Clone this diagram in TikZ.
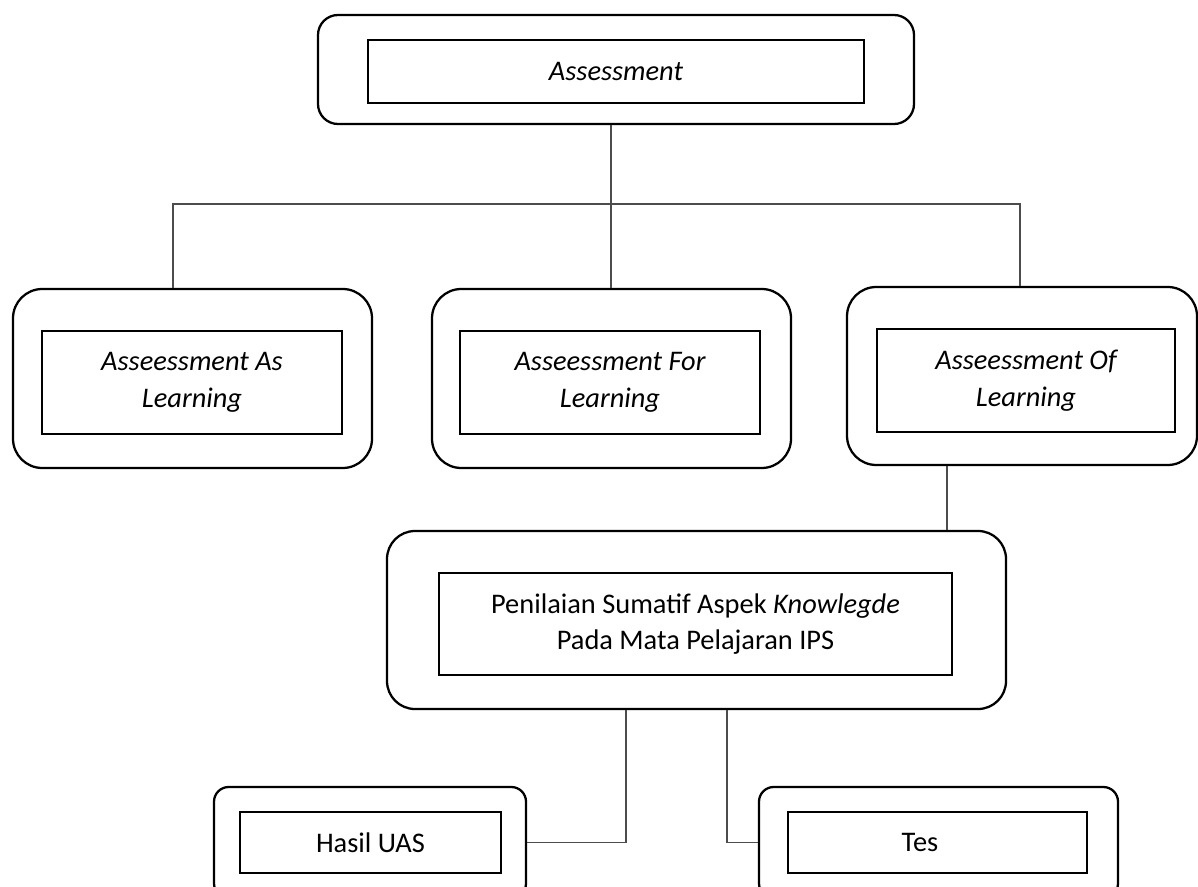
\documentclass[tikz,border=0pt]{standalone}
\usepackage{fontspec}
\setmainfont{Carlito}
\begin{document}
\begin{tikzpicture}[x=0.75pt,y=-0.75pt,
  outerbox/.style={draw=black, line width=1.7pt, rounded corners=#1, inner sep=0pt},
  innerbox/.style={draw=black, line width=1.5pt, inner sep=0pt, align=center,
    font=\fontsize{21.3}{27.5}\selectfont},
  lbl/.style={inner sep=0pt, align=center, font=\fontsize{21.3}{27.5}\selectfont},
  conn/.style={draw=black!70, line width=0.8pt}]
\useasboundingbox (0,0) rectangle (1198,887);
\clip (0,0) rectangle (1198,887);
% top
\node[outerbox=15pt, minimum width=447pt, minimum height=81.75pt] (topO) at (616,69.5) {};
\node[innerbox, minimum width=372pt, minimum height=47.25pt] (topI) at (616,71.5) {\itshape Assessment};
% level 2
\node[outerbox=22pt, minimum width=269.25pt, minimum height=134.25pt] (b1O) at (192.5,378.5) {};
\node[innerbox, minimum width=225pt, minimum height=77.25pt] (b1I) at (192,382.5) {\itshape Asseessment As\\\itshape Learning};
\node[outerbox=22pt, minimum width=269.25pt, minimum height=134.25pt] (b2O) at (611.5,378.5) {};
\node[innerbox, minimum width=225pt, minimum height=77.25pt] (b2I) at (610,382.5) {\itshape Asseessment For\\\itshape Learning};
\node[outerbox=22pt, minimum width=262.5pt, minimum height=133.5pt] (b3O) at (1022,376) {};
\node[innerbox, minimum width=223.5pt, minimum height=77.25pt] (b3I) at (1026,380.5) {\itshape Asseessment Of\\\itshape Learning};
% level 3
\node[outerbox=21pt, minimum width=464.25pt, minimum height=133.5pt] (b4O) at (696.5,620) {};
\node[innerbox, minimum width=384.75pt, minimum height=76.5pt] (b4I) at (695.5,624) {Penilaian Sumatif Aspek \textit{Knowlegde}\\Pada Mata Pelajaran IPS};
% level 4
\node[outerbox=11pt, minimum width=234pt, minimum height=83.25pt] (b5O) at (370,842.5) {};
\node[innerbox, minimum width=195.75pt, minimum height=45.75pt] (b5I) at (370.5,842.5) {Hasil UAS};
\node[outerbox=11pt, minimum width=269.25pt, minimum height=83.25pt] (b6O) at (938.5,842.5) {};
\node[innerbox, minimum width=224.25pt, minimum height=45.75pt] (b6I) at (937.5,842.5) {};
\node[lbl] (tTes) at (920,842.5) {Tes};
% junction coordinates
\coordinate (j0) at (611,204);
\coordinate (jL) at (173,204);
\coordinate (jR) at (1020,204);
\coordinate (k3) at (947,500);
\coordinate (k5) at (626,843);
\coordinate (k6) at (727,843);
% connectors
\draw[conn] (j0 |- topO.south) -- (j0 |- b2O.north);
\draw[conn] (jL |- b1O.north) -- (jL) -- (jR) -- (jR |- b3O.north);
\draw[conn] (k3 |- b3O.south) -- (k3 |- b4O.north);
\draw[conn] (b5O.east) -| (k5 |- b4O.south);
\draw[conn] (b6O.west) -| (k6 |- b4O.south);
\end{tikzpicture}
\end{document}
